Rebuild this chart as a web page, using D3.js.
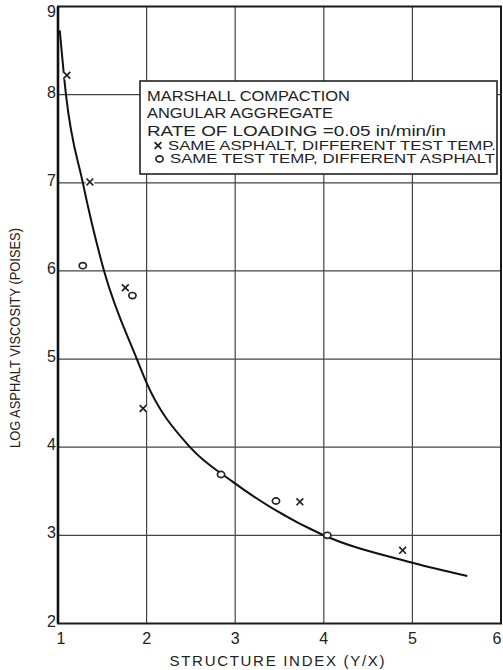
<!DOCTYPE html>
<html>
<head>
<meta charset="utf-8">
<script src="https://cdn.jsdelivr.net/npm/d3@7/dist/d3.min.js"></script>
<style>
  html, body { margin: 0; padding: 0; background: #fff; }
  svg { display: block; }
  text { font-family: "Liberation Sans", Arial, sans-serif; fill: #222; }
</style>
</head>
<body>
<svg id="chart" width="503" height="670"></svg>
<script>
// Structure index vs. log asphalt viscosity
const xTicks = [1, 2, 3, 4, 5, 6];
const yTicks = [2, 3, 4, 5, 6, 7, 8, 9];

// x: same asphalt, different test temperature
const sameAsphaltX = [1.10, 1.36, 1.76, 1.96, 3.73, 4.89];
const sameAsphaltY = [8.22, 7.01, 5.81, 4.44, 3.38, 2.83];

// o: same test temperature, different asphalt
const sameTempX = [1.28, 1.84, 2.84, 3.46, 4.04];
const sameTempY = [6.06, 5.72, 3.69, 3.39, 3.00];

// fitted trend curve
const curveX = [1.02, 1.09, 1.28, 1.52, 1.89, 2.00, 2.49, 2.97, 3.98, 5.00, 5.62];
const curveY = [8.73, 8.00, 7.00, 6.00, 5.00, 4.73, 4.00, 3.61, 3.01, 2.69, 2.54];

const legendLines = [
  "MARSHALL COMPACTION",
  "ANGULAR AGGREGATE",
  "RATE OF LOADING =0.05 in/min/in",
  "SAME ASPHALT, DIFFERENT TEST TEMP.",
  "SAME TEST TEMP, DIFFERENT ASPHALT"
];

const xTitle = "STRUCTURE INDEX (Y/X)";
const yTitle = "LOG ASPHALT VISCOSITY (POISES)";

const svg = d3.select("#chart");
const plot = { left: 58, right: 501, top: 6.5, bottom: 623.5 };

const x = d3.scaleLinear().domain([1, 6]).range([plot.left, plot.right]);
const y = d3.scaleLinear().domain([2, 9]).range([plot.bottom, plot.top]);

// grid
const grid = svg.append("g").attr("stroke", "#444").attr("stroke-width", 1.2);
grid.selectAll("line.v").data(xTicks.slice(1, -1)).join("line")
  .attr("x1", d => x(d)).attr("x2", d => x(d))
  .attr("y1", plot.top).attr("y2", plot.bottom);
grid.selectAll("line.h").data(yTicks.slice(1, -1)).join("line")
  .attr("x1", plot.left).attr("x2", plot.right)
  .attr("y1", d => y(d)).attr("y2", d => y(d));

// frame
svg.append("rect")
  .attr("x", plot.left).attr("y", plot.top)
  .attr("width", plot.right - plot.left).attr("height", plot.bottom - plot.top)
  .attr("fill", "none").attr("stroke", "#1a1a1a").attr("stroke-width", 2);
svg.append("line")
  .attr("x1", plot.left).attr("x2", plot.left)
  .attr("y1", plot.top).attr("y2", plot.bottom)
  .attr("stroke", "#111").attr("stroke-width", 2.6);

// tick labels
svg.append("g").selectAll("text").data(yTicks).join("text")
  .attr("x", 56).attr("y", d => Math.max(y(d) - 2.5, 11.5))
  .attr("text-anchor", "end").attr("dominant-baseline", "central")
  .attr("font-size", 16).text(d => d);

svg.append("g").selectAll("text").data(xTicks).join("text")
  .attr("x", d => Math.min(Math.max(x(d), 61), 497)).attr("y", 644)
  .attr("text-anchor", "middle")
  .attr("font-size", 16).text(d => d);

// axis titles
svg.append("text")
  .attr("x", 277).attr("y", 665.5)
  .attr("text-anchor", "middle").attr("font-size", 15)
  .attr("textLength", 215).attr("lengthAdjust", "spacing")
  .text(xTitle);

svg.append("text")
  .attr("transform", "translate(19.5,338) rotate(-90)")
  .attr("text-anchor", "middle").attr("font-size", 14.5)
  .attr("textLength", 220).attr("lengthAdjust", "spacingAndGlyphs")
  .text(yTitle);

// trend curve
const curvePts = curveX.map((v, i) => [v, curveY[i]]);
svg.append("path")
  .datum(curvePts)
  .attr("fill", "none").attr("stroke", "#111").attr("stroke-width", 2)
  .attr("d", d3.line().x(d => x(d[0])).y(d => y(d[1])).curve(d3.curveMonotoneX));

// marker drawing helpers
function drawCross(g, cx, cy) {
  g.append("circle").attr("cx", cx).attr("cy", cy).attr("r", 4.5).attr("fill", "#fff");
  g.append("path")
    .attr("d", `M${cx - 3.4},${cy - 3.4}L${cx + 3.4},${cy + 3.4}M${cx - 3.4},${cy + 3.4}L${cx + 3.4},${cy - 3.4}`)
    .attr("stroke", "#222").attr("stroke-width", 1.7).attr("fill", "none");
}
function drawRing(g, cx, cy) {
  g.append("ellipse").attr("cx", cx).attr("cy", cy).attr("rx", 3.6).attr("ry", 3.1)
    .attr("fill", "#fff").attr("stroke", "#222").attr("stroke-width", 1.7);
}

const marks = svg.append("g");
sameAsphaltX.forEach((v, i) => drawCross(marks, x(v), y(sameAsphaltY[i])));
sameTempX.forEach((v, i) => drawRing(marks, x(v), y(sameTempY[i])));

// legend box
const lg = svg.append("g");
lg.append("rect")
  .attr("x", 140).attr("y", 81).attr("width", 357).attr("height", 93)
  .attr("fill", "#fff").attr("stroke", "#222").attr("stroke-width", 1.6);

const lineBaselines = [101, 118, 136, 149.5, 162.5];
const lineSizes = [15, 15, 14, 12.5, 12.5];
const lineStarts = [147, 147, 147, 168, 170];
const lineWidths = [203, 186, 299, 328, 325];
legendLines.forEach((t, i) => {
  lg.append("text")
    .attr("x", lineStarts[i]).attr("y", lineBaselines[i])
    .attr("font-size", lineSizes[i])
    .attr("textLength", lineWidths[i]).attr("lengthAdjust", "spacingAndGlyphs")
    .text(t);
});
drawCross(lg, 158, 145.5);
drawRing(lg, 159.5, 159);
</script>
</body>
</html>
